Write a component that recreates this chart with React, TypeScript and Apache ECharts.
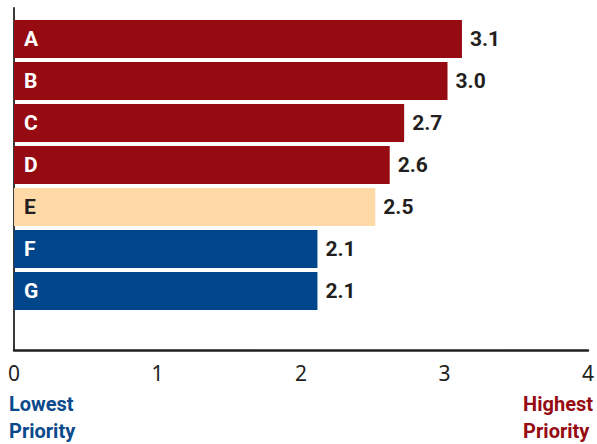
import React, { useEffect, useRef } from "react";
import * as echarts from "echarts";

const categories = ["A", "B", "C", "D", "E", "F", "G"];
const values = [3.1, 3.0, 2.7, 2.6, 2.5, 2.1, 2.1];
const priorityGroup = ["high", "high", "high", "high", "mid", "low", "low"];
const xTicks = [0, 1, 2, 3, 4];
const lowLabel = "Lowest\nPriority";
const highLabel = "Highest\nPriority";

const groupColors: Record<string, string> = {
  high: "#960A12",
  mid: "#FFD9A6",
  low: "#01468A",
};
const groupTextColors: Record<string, string> = {
  high: "#FFFFFF",
  mid: "#231F20",
  low: "#FFFFFF",
};

const condensed = "Roboto, 'Noto Sans', sans-serif";
const regular = "'Noto Sans', 'Open Sans', sans-serif";

export default function App() {
  const ref = useRef<HTMLDivElement>(null);
  useEffect(() => {
    if (!ref.current) return;
    const chart = echarts.init(ref.current, undefined, { renderer: "svg" });
    chart.setOption({
      animation: false,
      grid: [
        { left: 14, right: 5, top: 18, height: 294, containLabel: false },
        { left: 14, right: 5, top: 8, bottom: 94, containLabel: false },
      ],
      xAxis: [
        {
          gridIndex: 0,
          type: "value",
          min: xTicks[0],
          max: xTicks[xTicks.length - 1],
          interval: 1,
          show: false,
        },
        {
          gridIndex: 1,
          type: "value",
          min: xTicks[0],
          max: xTicks[xTicks.length - 1],
          interval: 1,
          axisLine: { show: true, lineStyle: { color: "#231F20", width: 2.5 } },
          axisTick: { show: false },
          splitLine: { show: false },
          axisLabel: {
            color: "#231F20",
            fontSize: 21,
            fontFamily: regular,
            margin: 12,
          },
        },
      ],
      yAxis: [
        {
          gridIndex: 0,
          type: "category",
          data: categories,
          inverse: true,
          z: 10,
          axisLine: { show: false },
          axisTick: { show: false },
          splitLine: { show: false },
          axisLabel: {
            inside: true,
            margin: 10,
            color: (_v: any, i: number) => groupTextColors[priorityGroup[i]],
            fontWeight: "bold",
            fontSize: 21,
            fontFamily: condensed,
          },
        },
        {
          gridIndex: 1,
          type: "value",
          min: 0,
          max: 1,
          axisLine: { show: true, lineStyle: { color: "#3A3A3A", width: 2 } },
          axisTick: { show: false },
          splitLine: { show: false },
          axisLabel: { show: false },
        },
      ],
      series: [
        {
          type: "bar",
          xAxisIndex: 0,
          yAxisIndex: 0,
          barWidth: 38,
          data: values.map((v, i) => ({
            value: v,
            itemStyle: { color: groupColors[priorityGroup[i]] },
          })),
          label: {
            show: true,
            position: "right",
            distance: 8,
            formatter: (p: any) => Number(p.value).toFixed(1),
            color: "#231F20",
            fontWeight: "bold",
            fontSize: 21,
            fontFamily: condensed,
          },
        },
      ],
      graphic: [
        {
          type: "text",
          left: 9,
          top: 390,
          style: {
            text: lowLabel,
            fill: "#0A4A8C",
            fontWeight: "bold",
            fontSize: 20,
            lineHeight: 27,
            fontFamily: condensed,
          },
        },
        {
          type: "text",
          right: 4,
          top: 390,
          style: {
            text: highLabel,
            align: "right",
            fill: "#960A12",
            fontWeight: "bold",
            fontSize: 20,
            lineHeight: 27,
            fontFamily: condensed,
          },
        },
      ],
    });
    return () => chart.dispose();
  }, []);
  return <div ref={ref} style={{ width: 597, height: 444, position: "absolute", left: 0, top: 0 }} />;
}
